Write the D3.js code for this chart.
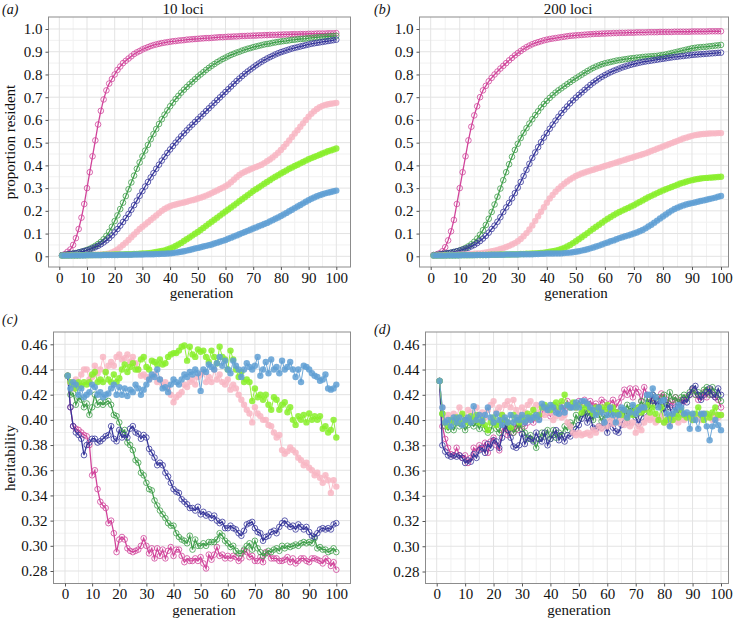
<!DOCTYPE html>
<html><head><meta charset="utf-8">
<script src="https://cdn.jsdelivr.net/npm/d3@7"></script>
<style>body{margin:0;background:#fff} svg text{font-family:"Liberation Serif","Times New Roman","DejaVu Serif","Noto Serif",serif;}</style>
</head><body>
<svg id="chart" width="737" height="621"></svg>
<script>
// ---------- DATA ----------
const generations = d3.range(1, 101);
const seriesKeys = ["pink", "lime", "blue", "magenta", "green", "navy"];

// (a) 10 loci, proportion resident
const A_MAGENTA = [.005,.01,.02,.03,.05,.08,.12,.17,.23,.30,
.37,.44,.51,.58,.64,.69,.73,.76,.78,.80,
.82,.835,.85,.86,.87,.88,.89,.897,.903,.91,
.915,.92,.925,.929,.932,.935,.938,.94,.942,.944,
.946,.947,.949,.95,.951,.953,.954,.955,.956,.957,
.958,.959,.96,.96,.961,.962,.963,.964,.964,.965,
.966,.966,.967,.967,.968,.969,.969,.97,.97,.971,
.971,.972,.972,.973,.973,.974,.974,.974,.975,.975,
.976,.976,.976,.977,.977,.977,.978,.978,.978,.979,
.979,.979,.98,.98,.98,.98,.981,.981,.981,.982];
const A_GREEN = [.005,.006,.008,.01,.012,.014,.017,.02,.024,.028,
.033,.039,.046,.054,.063,.075,.09,.108,.13,.155,
.18,.208,.236,.265,.295,.325,.355,.385,.413,.44,
.465,.49,.515,.538,.56,.582,.603,.623,.642,.66,
.676,.692,.706,.72,.733,.745,.757,.768,.779,.79,
.8,.81,.82,.829,.838,.846,.854,.861,.868,.874,
.88,.886,.891,.896,.9,.905,.909,.913,.916,.92,
.923,.926,.929,.932,.934,.936,.939,.941,.943,.945,
.947,.948,.95,.952,.953,.955,.956,.957,.958,.96,
.961,.962,.963,.964,.965,.966,.967,.968,.969,.97];
const A_NAVY = [.005,.006,.008,.01,.012,.014,.017,.02,.023,.026,
.03,.035,.04,.046,.053,.061,.07,.08,.092,.105,
.12,.135,.151,.168,.186,.205,.225,.245,.266,.287,
.307,.327,.347,.366,.385,.403,.421,.438,.455,.47,
.485,.5,.514,.528,.541,.554,.567,.579,.591,.603,
.615,.627,.639,.651,.663,.675,.687,.699,.711,.723,
.735,.747,.759,.771,.782,.793,.803,.813,.822,.831,
.84,.848,.856,.863,.87,.876,.882,.888,.893,.898,
.902,.906,.91,.914,.917,.92,.923,.926,.929,.932,
.935,.937,.939,.941,.943,.945,.947,.949,.951,.953];
const A_PINK = [.003,.003,.003,.004,.004,.004,.005,.005,.005,.006,
.006,.006,.007,.007,.008,.008,.01,.013,.017,.022,
.03,.04,.05,.06,.072,.084,.096,.108,.12,.13,
.14,.15,.16,.17,.18,.19,.2,.208,.215,.22,
.225,.228,.231,.234,.237,.24,.244,.247,.25,.254,
.258,.262,.267,.272,.278,.284,.29,.296,.302,.308,
.316,.326,.337,.348,.358,.366,.372,.378,.383,.388,
.393,.398,.403,.41,.418,.426,.435,.445,.456,.468,
.481,.495,.51,.525,.54,.555,.57,.585,.6,.614,
.627,.638,.648,.656,.662,.666,.669,.671,.673,.675];
const A_LIME = [.003,.003,.003,.004,.004,.004,.004,.005,.005,.005,
.005,.006,.006,.006,.006,.007,.007,.007,.007,.008,
.008,.008,.008,.009,.009,.009,.01,.01,.011,.012,
.013,.014,.015,.017,.019,.021,.023,.026,.03,.034,
.039,.045,.052,.059,.067,.075,.083,.091,.099,.107,
.116,.125,.134,.143,.152,.161,.17,.179,.188,.197,
.206,.215,.224,.233,.242,.251,.26,.269,.278,.287,
.295,.303,.311,.319,.327,.335,.343,.35,.357,.364,
.371,.378,.385,.391,.397,.403,.409,.415,.421,.427,
.432,.437,.442,.447,.452,.457,.462,.466,.47,.474];
const A_BLUE = [.003,.003,.003,.003,.004,.004,.004,.004,.004,.005,
.005,.005,.005,.005,.005,.006,.006,.006,.006,.006,
.006,.007,.007,.007,.007,.007,.008,.008,.008,.008,
.009,.009,.009,.009,.01,.01,.011,.011,.012,.013,
.014,.016,.018,.02,.022,.025,.028,.031,.034,.037,
.04,.043,.046,.049,.052,.056,.06,.064,.068,.072,
.077,.082,.087,.092,.097,.102,.107,.112,.117,.122,
.127,.132,.137,.142,.147,.153,.159,.165,.171,.177,
.184,.191,.198,.205,.212,.219,.226,.233,.24,.247,
.253,.259,.264,.269,.273,.277,.28,.283,.286,.289];

// (b) 200 loci, proportion resident
const B_MAGENTA = [.005,.008,.013,.022,.04,.07,.11,.16,.23,.30,
.37,.44,.51,.57,.62,.66,.70,.73,.75,.77,
.785,.80,.813,.826,.838,.85,.862,.873,.884,.894,
.903,.912,.92,.927,.933,.938,.942,.946,.95,.953,
.956,.958,.96,.962,.964,.966,.968,.97,.971,.972,
.973,.974,.975,.976,.977,.978,.979,.979,.98,.98,
.981,.981,.982,.982,.983,.983,.983,.984,.984,.984,
.985,.985,.985,.985,.986,.986,.986,.986,.987,.987,
.987,.987,.987,.988,.988,.988,.988,.988,.988,.989,
.989,.989,.989,.989,.989,.99,.99,.99,.99,.99];
const B_GREEN = [.005,.006,.008,.01,.012,.014,.016,.019,.022,.026,
.031,.037,.044,.053,.064,.078,.095,.115,.138,.165,
.195,.228,.262,.298,.335,.37,.405,.438,.468,.495,
.52,.543,.564,.584,.603,.621,.638,.655,.67,.684,
.697,.709,.72,.73,.739,.748,.757,.766,.775,.783,
.791,.799,.807,.815,.822,.829,.835,.84,.845,.849,
.852,.855,.858,.861,.863,.865,.867,.869,.871,.872,
.874,.875,.877,.878,.879,.88,.881,.882,.884,.886,
.888,.891,.894,.897,.9,.903,.906,.909,.912,.915,
.917,.919,.92,.921,.922,.924,.925,.927,.928,.93];
const B_NAVY = [.005,.006,.008,.01,.012,.014,.016,.019,.022,.025,
.029,.033,.038,.044,.05,.058,.067,.078,.09,.104,
.12,.135,.152,.172,.195,.215,.235,.255,.278,.302,
.327,.353,.38,.407,.433,.457,.48,.502,.522,.542,
.561,.579,.597,.614,.63,.645,.659,.673,.686,.698,
.71,.721,.732,.743,.754,.764,.773,.782,.79,.797,
.804,.81,.816,.821,.826,.831,.835,.839,.843,.846,
.849,.852,.855,.857,.859,.861,.863,.865,.867,.869,
.871,.873,.875,.877,.878,.88,.881,.883,.884,.886,
.887,.888,.889,.89,.891,.892,.893,.894,.895,.896];
const B_PINK = [.003,.003,.004,.004,.005,.005,.006,.006,.007,.007,
.008,.008,.009,.01,.011,.012,.013,.015,.017,.019,
.022,.025,.028,.032,.036,.041,.046,.052,.058,.066,
.076,.088,.102,.118,.136,.156,.176,.196,.216,.236,
.254,.27,.284,.297,.308,.319,.329,.338,.346,.353,
.359,.364,.369,.373,.377,.381,.385,.389,.393,.397,
.401,.405,.409,.413,.417,.421,.425,.429,.433,.437,
.441,.445,.449,.453,.458,.463,.468,.473,.478,.483,
.488,.493,.498,.503,.508,.513,.518,.522,.526,.53,
.533,.535,.537,.538,.539,.54,.541,.541,.542,.542];
const B_LIME = [.003,.003,.003,.003,.004,.004,.004,.004,.004,.005,
.005,.005,.005,.005,.006,.006,.006,.006,.006,.007,
.007,.007,.007,.008,.008,.008,.008,.009,.009,.009,
.01,.01,.011,.011,.012,.013,.014,.015,.016,.018,
.02,.022,.025,.028,.032,.037,.043,.05,.058,.066,
.075,.084,.093,.102,.112,.121,.13,.139,.148,.157,
.165,.173,.181,.188,.195,.201,.207,.213,.219,.225,
.232,.239,.246,.253,.26,.266,.272,.278,.284,.29,
.295,.3,.305,.31,.315,.32,.324,.328,.332,.335,
.338,.34,.342,.344,.345,.346,.347,.348,.349,.35];
const B_BLUE = [.003,.003,.003,.003,.003,.004,.004,.004,.004,.004,
.005,.005,.005,.005,.005,.006,.006,.006,.006,.006,
.007,.007,.007,.007,.007,.008,.008,.008,.008,.008,
.009,.009,.009,.009,.009,.01,.01,.011,.011,.012,
.012,.012,.013,.013,.013,.014,.015,.016,.018,.02,
.022,.025,.028,.031,.035,.039,.043,.047,.052,.057,
.061,.066,.07,.075,.08,.084,.088,.092,.096,.1,
.105,.11,.116,.123,.131,.139,.148,.157,.166,.175,
.184,.193,.201,.208,.214,.219,.224,.228,.231,.234,
.237,.24,.243,.246,.249,.252,.255,.258,.262,.265];

// (c) 10 loci, heritability
const C_MAGENTA = [.435,.41,.395,.393,.392,.39,.388,.387,.38,.356,
.36,.345,.335,.332,.33,.318,.32,.31,.295,.305,
.307,.305,.298,.296,.295,.296,.297,.300,.306,.30,
.294,.298,.29,.298,.292,.297,.29,.296,.299,.292,
.297,.297,.292,.287,.29,.288,.288,.29,.288,.291,
.286,.282,.293,.289,.293,.299,.292,.293,.29,.292,
.29,.292,.291,.288,.29,.296,.295,.291,.292,.288,
.288,.291,.287,.295,.294,.29,.29,.29,.288,.288,
.289,.291,.287,.29,.286,.288,.29,.29,.288,.287,
.29,.29,.289,.288,.286,.29,.288,.284,.287,.281];
const C_GREEN = [.435,.42,.421,.412,.418,.416,.41,.413,.404,.41,
.42,.412,.414,.412,.414,.415,.412,.404,.403,.398,
.39,.392,.382,.38,.376,.368,.366,.358,.356,.35,
.345,.344,.336,.332,.328,.325,.322,.318,.316,.316,
.31,.307,.305,.304,.302,.308,.297,.305,.3,.3,
.302,.3,.303,.303,.303,.305,.31,.308,.304,.302,
.299,.3,.296,.294,.294,.297,.3,.302,.297,.304,
.298,.295,.292,.294,.296,.295,.297,.298,.296,.3,
.298,.3,.299,.3,.301,.3,.302,.303,.302,.303,
.302,.306,.298,.299,.297,.297,.295,.296,.298,.295];
const C_NAVY = [.435,.41,.395,.39,.388,.385,.372,.38,.382,.385,
.385,.382,.383,.385,.387,.388,.395,.385,.383,.392,
.386,.388,.386,.393,.395,.39,.389,.385,.388,.386,
.377,.374,.37,.364,.366,.364,.358,.355,.35,.345,
.343,.342,.337,.335,.333,.33,.33,.328,.331,.325,
.327,.324,.325,.322,.324,.32,.318,.319,.314,.314,
.316,.314,.313,.31,.308,.312,.317,.318,.319,.314,
.311,.31,.304,.307,.308,.311,.312,.31,.315,.318,
.32,.317,.315,.316,.313,.317,.315,.313,.315,.311,
.308,.307,.31,.313,.314,.313,.314,.313,.317,.318];
const C_PINK = [.435,.43,.425,.432,.428,.436,.44,.44,.432,.434,
.443,.437,.44,.45,.438,.443,.446,.443,.45,.452,
.448,.449,.452,.446,.45,.445,.44,.435,.436,.434,
.432,.434,.436,.43,.432,.428,.43,.425,.42,.414,
.418,.42,.422,.428,.426,.43,.432,.428,.434,.436,
.438,.43,.434,.43,.44,.432,.436,.43,.428,.432,
.424,.428,.425,.42,.416,.412,.408,.405,.398,.41,
.405,.403,.4,.4,.396,.395,.39,.386,.388,.376,
.373,.375,.378,.376,.374,.37,.368,.364,.366,.362,
.36,.356,.358,.354,.35,.356,.352,.342,.352,.347];
const C_LIME = [.435,.43,.428,.425,.43,.427,.43,.428,.43,.436,
.438,.43,.432,.43,.438,.432,.43,.436,.43,.433,
.44,.444,.438,.442,.445,.44,.44,.448,.45,.442,
.44,.447,.446,.444,.448,.444,.445,.45,.452,.453,
.453,.455,.458,.459,.447,.458,.452,.45,.456,.454,
.455,.45,.446,.455,.45,.445,.458,.45,.448,.44,
.455,.448,.44,.434,.438,.43,.432,.43,.415,.425,
.418,.42,.416,.42,.412,.408,.418,.416,.408,.412,
.414,.406,.41,.4,.396,.403,.4,.404,.398,.405,
.4,.403,.4,.403,.393,.395,.39,.392,.4,.386];
const C_BLUE = [.435,.425,.43,.428,.42,.425,.418,.42,.422,.428,
.426,.42,.422,.418,.42,.421,.425,.428,.42,.426,
.42,.425,.419,.424,.422,.428,.425,.42,.424,.428,
.432,.436,.434,.44,.432,.425,.426,.422,.428,.432,
.43,.428,.432,.436,.434,.438,.436,.44,.437,.423,
.44,.438,.444,.442,.44,.445,.45,.443,.447,.44,
.437,.447,.443,.44,.434,.44,.445,.442,.44,.443,
.45,.435,.44,.446,.437,.448,.44,.442,.437,.447,
.44,.442,.446,.44,.434,.44,.43,.443,.442,.44,
.437,.435,.434,.431,.432,.436,.425,.424,.425,.428];

// (d) 200 loci, heritability
const D_MAGENTA = [.431,.395,.385,.378,.373,.372,.378,.372,.37,.372,
.366,.37,.378,.375,.38,.377,.382,.374,.383,.386,
.38,.376,.392,.394,.388,.395,.39,.397,.392,.4,
.395,.398,.402,.398,.404,.401,.405,.41,.406,.403,
.408,.41,.406,.412,.408,.415,.41,.413,.41,.415,
.412,.416,.413,.415,.411,.413,.41,.416,.414,.41,
.413,.416,.41,.414,.418,.424,.42,.425,.418,.425,
.422,.415,.426,.42,.418,.415,.418,.416,.421,.418,
.416,.415,.412,.418,.414,.416,.415,.418,.42,.424,
.42,.416,.418,.422,.418,.424,.42,.418,.416,.41];
const D_GREEN = [.431,.405,.395,.392,.395,.392,.398,.395,.397,.392,
.396,.398,.395,.398,.393,.398,.393,.39,.392,.398,
.393,.39,.4,.398,.392,.395,.39,.393,.397,.393,
.39,.385,.388,.384,.378,.385,.39,.387,.392,.385,
.392,.386,.39,.388,.395,.392,.398,.396,.404,.4,
.405,.408,.403,.406,.4,.406,.404,.399,.404,.402,
.408,.403,.406,.402,.408,.405,.412,.407,.41,.404,
.41,.415,.41,.417,.412,.42,.415,.418,.414,.42,
.41,.422,.416,.418,.414,.418,.42,.417,.422,.425,
.42,.422,.42,.424,.426,.42,.426,.422,.42,.415];
const D_NAVY = [.431,.38,.375,.372,.371,.372,.371,.372,.37,.366,
.368,.367,.373,.37,.376,.378,.374,.381,.378,.384,
.383,.378,.386,.396,.392,.386,.379,.378,.38,.389,
.381,.386,.385,.383,.39,.385,.383,.39,.38,.385,
.388,.392,.384,.388,.383,.388,.387,.39,.393,.396,
.401,.406,.398,.403,.394,.393,.395,.394,.398,.39,
.398,.394,.391,.39,.396,.404,.398,.406,.405,.402,
.397,.402,.406,.41,.413,.42,.412,.415,.412,.406,
.412,.41,.402,.41,.405,.412,.416,.414,.42,.425,
.427,.42,.416,.42,.422,.425,.42,.418,.425,.42];
const D_PINK = [.431,.41,.4,.404,.398,.405,.402,.41,.404,.402,
.408,.406,.4,.41,.404,.406,.402,.408,.412,.415,
.406,.41,.404,.412,.415,.41,.416,.408,.404,.41,
.406,.412,.415,.408,.412,.406,.41,.404,.41,.406,
.4,.403,.406,.402,.404,.398,.395,.39,.388,.39,
.388,.389,.39,.388,.392,.39,.395,.393,.398,.395,
.4,.397,.4,.398,.402,.396,.399,.395,.398,.39,
.395,.392,.398,.402,.4,.402,.398,.4,.403,.398,
.4,.396,.4,.402,.398,.404,.4,.404,.402,.4,
.402,.404,.4,.405,.402,.404,.4,.404,.402,.404];
const D_LIME = [.431,.405,.398,.395,.4,.398,.402,.398,.405,.4,
.398,.403,.4,.404,.398,.4,.396,.392,.398,.402,
.396,.398,.404,.4,.398,.394,.404,.4,.398,.402,
.4,.405,.403,.408,.402,.404,.41,.412,.41,.408,
.412,.414,.41,.415,.42,.412,.41,.414,.41,.412,
.406,.41,.412,.408,.405,.41,.406,.41,.408,.412,
.408,.41,.406,.405,.404,.408,.402,.406,.404,.408,
.41,.406,.408,.412,.406,.41,.405,.4,.41,.398,
.4,.403,.4,.405,.402,.408,.404,.402,.404,.4,
.405,.41,.404,.4,.405,.402,.406,.41,.404,.404];
const D_BLUE = [.431,.41,.398,.4,.395,.402,.398,.402,.396,.4,
.402,.398,.411,.4,.404,.399,.404,.41,.402,.398,
.405,.4,.396,.402,.398,.404,.398,.402,.4,.404,
.398,.402,.4,.402,.404,.4,.413,.41,.408,.412,
.41,.406,.405,.41,.406,.412,.41,.41,.414,.41,
.415,.415,.413,.41,.408,.404,.41,.406,.398,.404,
.41,.404,.398,.404,.41,.408,.402,.406,.412,.405,
.408,.41,.41,.42,.42,.425,.418,.41,.415,.416,
.405,.395,.405,.408,.412,.41,.405,.406,.393,.405,
.4,.393,.405,.405,.395,.384,.395,.4,.396,.392];

// tick labels
const xTicks = [0,10,20,30,40,50,60,70,80,90,100];
const yTicksProp = [0,.1,.2,.3,.4,.5,.6,.7,.8,.9,1.0];
const yTicksHer = [.28,.30,.32,.34,.36,.38,.40,.42,.44,.46];
const panelLetters = ["(a)","(b)","(c)","(d)"];
const panelTitles = ["10 loci","200 loci","",""];

// ---------- STYLE ----------
const style = {
  pink:    {color:"#f8b6c3", filled:true},
  lime:    {color:"#88ee2a", filled:true},
  blue:    {color:"#5f9fd4", filled:true},
  magenta: {color:"#d1449a", filled:false},
  green:   {color:"#3f9e4a", filled:false},
  navy:    {color:"#36369a", filled:false}
};
const FONT = "Liberation Serif, Times New Roman, DejaVu Serif, serif";

const panels = [
  {data:{pink:A_PINK,lime:A_LIME,blue:A_BLUE,magenta:A_MAGENTA,green:A_GREEN,navy:A_NAVY},
   rect:[48.5,17,350.5,267], xr:[59.3,336.3], yd:[0,1], yr:[256.3,29], yt:yTicksProp, yminor:0.05, fmt:d=>d===0?"0":d.toFixed(1)},
  {data:{pink:B_PINK,lime:B_LIME,blue:B_BLUE,magenta:B_MAGENTA,green:B_GREEN,navy:B_NAVY},
   rect:[419.5,17,728.5,267], xr:[430.7,721], yd:[0,1], yr:[256.3,29], yt:yTicksProp, yminor:0.05, fmt:d=>d===0?"0":d.toFixed(1)},
  {data:{pink:C_PINK,lime:C_LIME,blue:C_BLUE,magenta:C_MAGENTA,green:C_GREEN,navy:C_NAVY},
   rect:[53.5,332,350.5,583.5], xr:[65,336.3], yd:[.28,.46], yr:[571,344.3], yt:yTicksHer, yminor:0.01, fmt:d=>d.toFixed(2)},
  {data:{pink:D_PINK,lime:D_LIME,blue:D_BLUE,magenta:D_MAGENTA,green:D_GREEN,navy:D_NAVY},
   rect:[425.5,332,728.5,583.5], xr:[436.7,721], yd:[.28,.46], yr:[571.5,344.3], yt:yTicksHer, yminor:0.01, fmt:d=>d.toFixed(2)}
];
const letterPos = [[2,14],[374,14],[2,324],[374,334]];
const titlePos = [[183,14],[568,14]];
const yTitlePos = [[15,142,"proportion resident"],[15,458,"heritability"]];

const svg = d3.select("#chart").attr("font-family", FONT);
const drawOrder = ["magenta","green","navy","pink","lime","blue"];

panels.forEach((p,i)=>{
  const [x0,y0,x1,y1] = p.rect;
  const x = d3.scaleLinear().domain([0,100]).range(p.xr);
  const y = d3.scaleLinear().domain(p.yd).range(p.yr);
  const g = svg.append("g");
  const clipId = "clip"+i;
  svg.append("clipPath").attr("id",clipId).append("rect")
     .attr("x",x0).attr("y",y0).attr("width",x1-x0).attr("height",y1-y0);

  // grid
  const xMinor = d3.range(5,100,10);
  const yMinor = p.yt.slice(0,-1).map(v=>v+p.yminor);
  const grid = g.append("g").attr("clip-path",`url(#${clipId})`);
  grid.selectAll(".xm").data(xMinor).join("line")
    .attr("x1",d=>x(d)).attr("x2",d=>x(d)).attr("y1",y0).attr("y2",y1)
    .attr("stroke","#f1f1f1").attr("stroke-width",1);
  grid.selectAll(".ym").data(yMinor).join("line")
    .attr("y1",d=>y(d)).attr("y2",d=>y(d)).attr("x1",x0).attr("x2",x1)
    .attr("stroke","#f1f1f1").attr("stroke-width",1);
  grid.selectAll(".xM").data(xTicks).join("line")
    .attr("x1",d=>x(d)).attr("x2",d=>x(d)).attr("y1",y0).attr("y2",y1)
    .attr("stroke","#e3e3e3").attr("stroke-width",1);
  grid.selectAll(".yM").data(p.yt).join("line")
    .attr("y1",d=>y(d)).attr("y2",d=>y(d)).attr("x1",x0).attr("x2",x1)
    .attr("stroke","#e3e3e3").attr("stroke-width",1);

  // series
  const plot = g.append("g").attr("clip-path",`url(#${clipId})`);
  const line = d3.line().x((d,k)=>x(generations[k])).y(d=>y(d));
  drawOrder.forEach(key=>{
    const s = style[key], vals = p.data[key];
    const sg = plot.append("g");
    sg.append("path").datum(vals).attr("d",line).attr("fill","none")
      .attr("stroke",s.color).attr("stroke-width",s.filled?1:1.3)
      .attr("opacity",s.filled?0.9:1);
    sg.selectAll("circle").data(vals).join("circle")
      .attr("cx",(d,k)=>x(generations[k])).attr("cy",d=>y(d))
      .attr("r",s.filled?3.2:2.8)
      .attr("fill",s.filled?s.color:"none")
      .attr("fill-opacity",s.filled?0.85:0)
      .attr("stroke",s.filled?"none":s.color)
      .attr("stroke-width",0.8);
  });

  // border
  g.append("rect").attr("x",x0).attr("y",y0).attr("width",x1-x0).attr("height",y1-y0)
    .attr("fill","none").attr("stroke","#8c8c8c").attr("stroke-width",1);

  // axes
  const xa = g.append("g").attr("transform",`translate(0,${y1})`)
    .call(d3.axisBottom(x).tickValues(xTicks).tickSize(3).tickPadding(2).tickFormat(d3.format("d")));
  const ya = g.append("g").attr("transform",`translate(${x0},0)`)
    .call(d3.axisLeft(y).tickValues(p.yt).tickSize(3).tickPadding(3).tickFormat(p.fmt));
  [xa,ya].forEach(a=>{
    a.attr("font-family", FONT).attr("font-size", 15);
    a.select(".domain").remove();
    a.selectAll(".tick line").attr("stroke","#555");
    a.selectAll(".tick text").attr("fill","#111");
  });

  g.append("text").attr("x",(x0+x1)/2+2).attr("y",y1+31).attr("text-anchor","middle")
    .attr("font-size",15).attr("fill","#111").text("generation");

  g.append("text").attr("x",letterPos[i][0]).attr("y",letterPos[i][1])
    .attr("font-size",14).attr("font-style","italic")
    .attr("fill","#111").text(panelLetters[i]);
  if (panelTitles[i]) {
    g.append("text").attr("x",titlePos[i][0]).attr("y",titlePos[i][1]).attr("text-anchor","middle")
      .attr("font-size",15).attr("fill","#111").text(panelTitles[i]);
  }
});

yTitlePos.forEach(([tx,ty,t])=>{
  svg.append("text").attr("transform",`translate(${tx},${ty}) rotate(-90)`)
    .attr("text-anchor","middle").attr("font-size",15)
    .attr("fill","#111").text(t);
});
</script>
</body></html>
